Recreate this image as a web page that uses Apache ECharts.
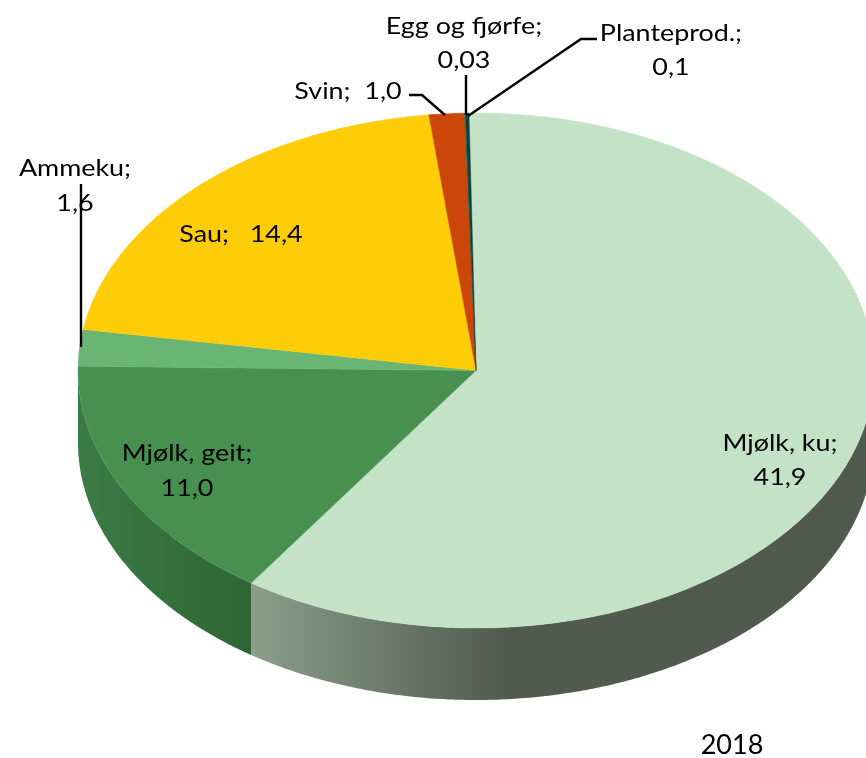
<!DOCTYPE html>
<html><head><meta charset="utf-8">
<style>html,body{margin:0;padding:0;background:#fff}#c{width:866px;height:758px}</style>
<script src="https://cdn.jsdelivr.net/npm/echarts@6/dist/echarts.min.js"></script>
</head><body><div id="c"></div>
<script>
// Data
const categories = ['Mjølk, ku','Mjølk, geit','Ammeku','Sau','Svin','Egg og fjørfe','Planteprod.'];
const values = [41.9, 11.0, 1.6, 14.4, 1.0, 0.03, 0.1];
const valueLabels = ['41,9','11,0','1,6','14,4','1,0','0,03','0,1'];
const yearLabel = '2018';

// Styling and layout
const colors = ['#C3E2C6','#479050','#69B573','#FFCD07','#CC4509','#1F6A58','#123F38'];
const sideColors = [
  ['#8A9E8A','#505A4D'],
  ['#3C7B45','#2F6535']
];
const FONT = 'Lato, "Open Sans", sans-serif';
const CX = 476, CY = 370.5, RX = 398, RY = 257.5, DEPTH = 72, START_ANGLE = 91;
const labelLayout = [
  {x:780, y:460, sep:'\n', lh:34},
  {x:187, y:471, sep:'\n', lh:35},
  {x:75,  y:186, sep:'\n', lh:35},
  {x:241, y:234, sep:'   ', lh:34},
  {x:348, y:91,  sep:'  ', lh:34},
  {x:464, y:43,  sep:'\n', lh:34},
  {x:671, y:50,  sep:'\n', lh:34}
];
const leaders = [
  [[81,184],[81,347]],
  [[409,95],[422,95],[445,115]],
  [[466,75],[466,115]],
  [[597,39],[581,39],[468,116]]
];

const total = values.reduce((a,b)=>a+b,0);
let run = 0;
const rows = values.map((v,i)=>{ const r=[1,run,run+v,i]; run+=v; return r; });

function renderSlice(params, api){
  const i = api.value(3), a0 = api.value(1), a1 = api.value(2);
  const pt = a => {
    const p = api.coord([1,a]);
    return [p[0], CY + (p[1]-CY)*RY/RX];
  };
  const arc = (s,e) => {
    const n = Math.max(2, Math.ceil((e-s)/total*720)), out=[];
    for(let k=0;k<=n;k++) out.push(pt(s+(e-s)*k/n));
    return out;
  };
  const children = [];
  const rot = (START_ANGLE-90)/360*total;
  const s = Math.max(a0,total/4+rot), e = Math.min(a1,total*3/4+rot);
  if(e>s && i<sideColors.length){
    const topEdge = arc(s,e);
    const bottom = topEdge.map(p=>[p[0],p[1]+DEPTH]).reverse();
    const xs = i===0 ? [252,510] : [80,252];
    const sc = sideColors[i];
    children.push({type:'polygon',z2:1,shape:{points:topEdge.concat(bottom)},
      style:{fill:new echarts.graphic.LinearGradient(xs[0],0,xs[1],0,
        [{offset:0,color:sc[0]},{offset:1,color:sc[1]}],true)}});
  }
  children.push({type:'polygon',z2:2,shape:{points:[[CX,CY]].concat(arc(a0,a1))},
    style:{fill:colors[i],stroke:colors[i],lineWidth:0.4}});
  const L = labelLayout[i];
  children.push({type:'text',z2:5,x:L.x,y:L.y,scaleX:1.12,style:{
    text:categories[i]+';'+L.sep+valueLabels[i],
    fill:'#000',font:'24px '+FONT,lineHeight:L.lh,align:'center',verticalAlign:'middle'}});
  return {type:'group',children};
}

const chart = echarts.init(document.getElementById('c'),null,{renderer:'canvas'});
chart.setOption({
  animation:false,
  backgroundColor:'#fff',
  polar:{center:[CX,CY],radius:[0,RX]},
  radiusAxis:{show:false,type:'value',min:0,max:1},
  angleAxis:{show:false,type:'value',min:0,max:total,startAngle:START_ANGLE,clockwise:true},
  series:[
    {type:'custom',coordinateSystem:'polar',clip:false,silent:true,
     encode:{radius:0,angle:1},data:rows,renderItem:renderSlice,z:2}
  ],
  graphic:leaders.map(pts=>({type:'polyline',z:100,silent:true,shape:{points:pts},
    style:{stroke:'#000',lineWidth:2.4,fill:null}})).concat([
    {type:'text',z:100,silent:true,x:732,y:745,style:{text:yearLabel,fill:'#000',
      font:'27px '+FONT,align:'center',verticalAlign:'middle'}}
  ])
});
</script></body></html>
